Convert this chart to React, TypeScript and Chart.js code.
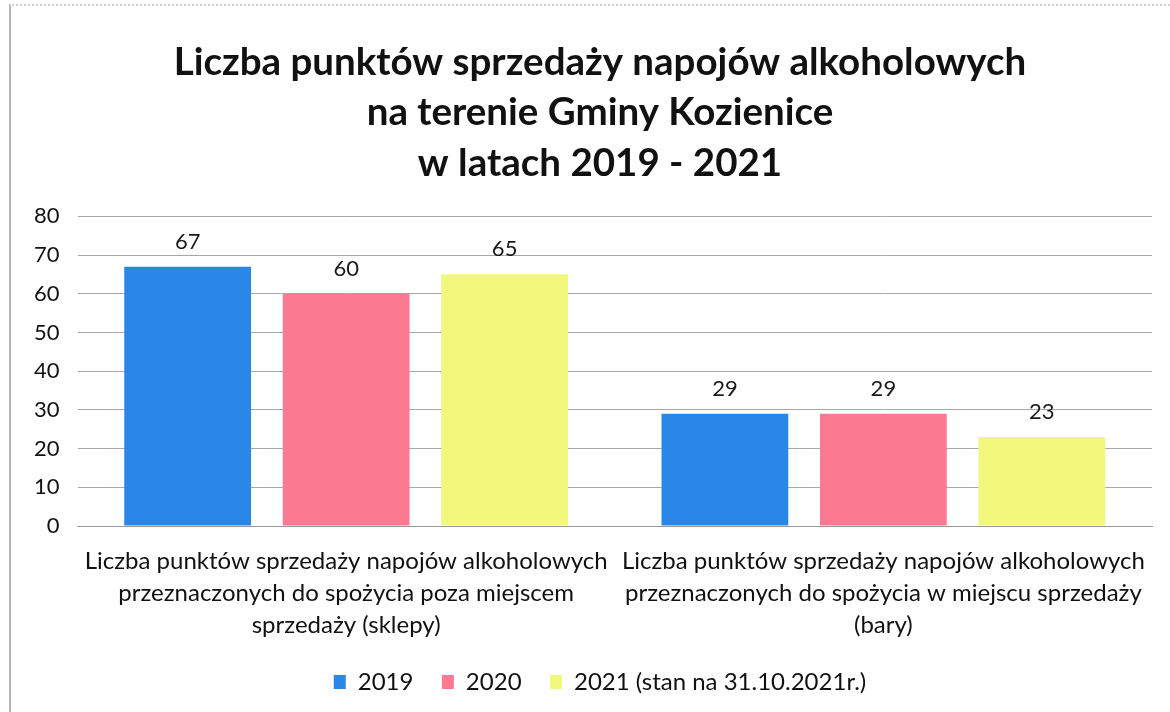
import React, { useEffect, useRef } from "react";
import { Chart, registerables } from "chart.js";

Chart.register(...registerables);

const TITLE_LINES = [
  "Liczba punktów sprzedaży napojów alkoholowych",
  "na terenie Gminy Kozienice",
  "w latach 2019 - 2021",
];

const CATEGORIES: string[][] = [
  [
    "Liczba punktów sprzedaży napojów alkoholowych",
    "przeznaczonych do spożycia poza miejscem",
    "sprzedaży (sklepy)",
  ],
  [
    "Liczba punktów sprzedaży napojów alkoholowych",
    "przeznaczonych do spożycia w miejscu sprzedaży",
    "(bary)",
  ],
];

const SERIES_NAMES = ["2019", "2020", "2021 (stan na 31.10.2021r.)"];
const VALUES_2019 = [67, 29];
const VALUES_2020 = [60, 29];
const VALUES_2021 = [65, 23];
const Y_TICKS = [0, 10, 20, 30, 40, 50, 60, 70, 80];

const COLORS = ["#2a87e8", "#fb7a92", "#f2f87c"];
const FONT = "Lato, 'Open Sans', sans-serif";
const LEGEND_GAP = "   ";

const dataLabels = {
  id: "dataLabels",
  afterDatasetsDraw(chart: any) {
    const ctx = chart.ctx;
    ctx.save();
    ctx.font = `22px ${FONT}`;
    ctx.fillStyle = "#1a1a1a";
    ctx.textAlign = "center";
    ctx.textBaseline = "bottom";
    chart.data.datasets.forEach((ds: any, i: number) => {
      const meta = chart.getDatasetMeta(i);
      meta.data.forEach((bar: any, j: number) => {
        ctx.fillText(String(ds.data[j]), bar.x, bar.y - 14);
      });
    });
    ctx.restore();
  },
};

export default function App() {
  const ref = useRef<HTMLCanvasElement>(null);
  useEffect(() => {
    document.body.style.margin = "0";
    const chart = new Chart(ref.current!, {
      type: "bar",
      data: {
        labels: CATEGORIES,
        datasets: [VALUES_2019, VALUES_2020, VALUES_2021].map((d, i) => ({
          label: SERIES_NAMES[i],
          data: d,
          backgroundColor: COLORS[i],
          borderWidth: 0,
          categoryPercentage: 0.885,
          barPercentage: 0.8,
        })),
      },
      options: {
        animation: false,
        responsive: false,
        layout: { padding: { left: 16, right: 18, top: 0, bottom: 8 } },
        plugins: {
          title: {
            display: true,
            text: TITLE_LINES,
            color: "#111",
            font: { family: FONT, size: 38.5, weight: "bold", lineHeight: 1.31 },
            padding: { top: 37, bottom: 28 },
          },
          legend: {
            position: "bottom",
            labels: {
              color: "#111",
              font: { family: FONT, size: 24 },
              boxWidth: 12,
              boxHeight: 14,
              padding: 10,
              generateLabels: (chart: any) => {
                const items = Chart.defaults.plugins.legend.labels.generateLabels(chart);
                return items.map((it: any, idx: number) => ({
                  ...it,
                  text: idx < items.length - 1 ? it.text + LEGEND_GAP : it.text,
                }));
              },
            },
          },
          tooltip: { enabled: false },
        },
        scales: {
          x: {
            grid: { display: false, drawTicks: false },
            border: { display: true, color: "#9a9a9a" },
            afterFit: (axis: any) => {
              axis.height = 134;
            },
            ticks: {
              color: "#111",
              font: { family: FONT, size: 24, lineHeight: 1.34 },
              padding: 19,
              maxRotation: 0,
              autoSkip: false,
            },
          },
          y: {
            min: 0,
            max: 80,
            afterBuildTicks: (axis: any) => {
              axis.ticks = Y_TICKS.map((v) => ({ value: v }));
            },
            grid: { color: "#a8a8a8", drawTicks: false },
            border: { display: false },
            ticks: {
              color: "#111",
              font: { family: FONT, size: 22 },
              padding: 18,
            },
          },
          spacer: {
            type: "linear",
            position: "right",
            display: true,
            grid: { display: false, drawTicks: false },
            border: { display: false },
            ticks: { display: false },
            afterFit: (axis: any) => {
              axis.width = 32;
            },
          },
        },
      },
      plugins: [dataLabels],
    });
    return () => chart.destroy();
  }, []);
  return (
    <div
      style={{
        position: "relative",
        width: 1170,
        height: 712,
        background: "#fff",
        overflow: "hidden",
      }}
    >
      <div
        style={{
          position: "absolute",
          left: 9,
          top: 4,
          width: 1161,
          height: 708,
          borderLeft: "2px solid #b5b5b5",
          borderTop: "2px dotted #d0d0d0",
          boxSizing: "border-box",
          pointerEvents: "none",
        }}
      />
      <canvas ref={ref} width={1202} height={712} style={{ display: "block" }} />
    </div>
  );
}
